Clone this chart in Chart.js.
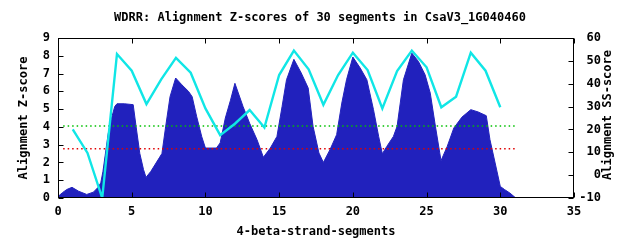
<!DOCTYPE html>
<html>
<head>
<meta charset="utf-8">
<script src="https://cdn.jsdelivr.net/npm/chart.js@4/dist/chart.umd.min.js"></script>
<style>
  html, body { margin: 0; padding: 0; background: #fff; }
  #wrap { width: 640px; height: 240px; }
</style>
</head>
<body>
<div id="wrap"><canvas id="c" width="640" height="240"></canvas></div>
<script>
// ---- data ----
const titleText = "WDRR: Alignment Z-scores of 30 segments in CsaV3_1G040460";
const xTitle = "4-beta-strand-segments";
const yTitle = "Alignment Z-score";
const y2Title = "Alignment SS-score";

// Z-score profile (filled area), positions along the segment axis
const zPos = [0, 0.3, 0.6, 0.95, 1.4, 1.95, 2.4, 2.72, 2.9, 3.05, 3.2, 3.4, 3.6, 3.85, 4.0, 4.5, 5.1, 5.3, 5.55, 5.8, 5.97,
  6.3, 6.9, 7.05, 7.3, 7.6, 7.98, 8.4, 8.85, 9.1, 9.4, 9.75, 10.0, 10.75, 11.0, 11.35, 11.7, 12.0, 12.55, 13.0, 13.5, 13.93,
  14.4, 14.85, 15.2, 15.5, 16.0, 16.5, 16.97, 17.3, 17.7, 18.0, 18.45, 18.9, 19.25, 19.57, 20.0, 20.5, 20.95, 21.4, 21.75,
  22.0, 22.3, 22.75, 23.0, 23.43, 24.0, 24.45, 24.9, 25.25, 25.6, 25.98, 26.4, 26.85, 27.4, 28.0, 28.5, 29.05, 29.3, 29.65,
  30.0, 30.3, 30.65, 31.05];
const zScore = [0.08, 0.3, 0.48, 0.6, 0.38, 0.2, 0.33, 0.6, 0.85, 1.5, 2.4, 3.6, 4.4, 5.15, 5.3, 5.3, 5.25, 4.0, 2.5, 1.6, 1.16,
  1.5, 2.3, 2.5, 4.0, 5.7, 6.75, 6.37, 6.0, 5.7, 4.6, 3.45, 2.81, 2.81, 3.1, 4.5, 5.5, 6.45, 5.15, 4.2, 3.28, 2.29,
  2.81, 3.46, 5.15, 6.65, 7.8, 7.03, 6.19, 4.03, 2.53, 2.0, 2.72, 3.56, 5.34, 6.65, 7.93, 7.31, 6.65, 4.97, 3.46,
  2.49, 2.9, 3.46, 4.03, 6.65, 8.15, 7.68, 6.93, 5.9, 4.03, 2.1, 2.9, 3.94, 4.55, 4.97, 4.84, 4.63, 3.28, 1.97,
  0.65, 0.47, 0.28, 0.0];

// SS-score per segment (right axis)
const segments = [1,2,3,4,5,6,7,8,9,10,11,12,13,14,15,16,17,18,19,20,21,22,23,24,25,26,27,28,29,30];
const ssScore = [20, 9.7, -10, 53, 45.7, 31.1, 41.9, 51.3, 44.8, 29.2, 17.5, 22.5, 28.5, 20.8, 43.8, 54.5, 46.3, 30.8,
  43.8, 53.6, 46, 29.2, 45.5, 54.5, 47.2, 29.7, 34.3, 53.6, 45.7, 29.7];

// threshold lines (left axis)
const threshX = [0.35, 31];
const greenLevel = 4.05;
const redLevel = 2.77;

// axis ranges / ticks
const xRange = [0, 35], xStep = 5;
const yRange = [0, 9], yStep = 1;
const y2Range = [-10, 60], y2Step = 10;

// ---- chart ----
const FONT = "'DejaVu Sans Mono', monospace";
const tickFont = { family: FONT, size: 12, weight: 'bold', lineHeight: 1.2 };

const frame = {
  id: 'frame',
  afterDraw(chart) {
    const { ctx, chartArea: a, scales } = chart;
    ctx.save();
    ctx.strokeStyle = '#000';
    ctx.lineWidth = 1;
    const L = Math.round(a.left) + 0.5, R = Math.round(a.right) - 0.5;
    const T = Math.round(a.top) + 0.5, B = Math.round(a.bottom) - 0.5;
    ctx.strokeRect(L, T, R - L, B - T);
    const tl = 5;
    ctx.beginPath();
    scales.x.ticks.forEach(t => {
      const p = Math.round(scales.x.getPixelForValue(t.value)) + 0.5;
      ctx.moveTo(p, B); ctx.lineTo(p, B - tl);
      ctx.moveTo(p, T); ctx.lineTo(p, T + tl);
    });
    scales.y.ticks.forEach(t => {
      const p = Math.round(scales.y.getPixelForValue(t.value)) + 0.5;
      ctx.moveTo(L, p); ctx.lineTo(L + tl, p);
    });
    scales.y2.ticks.forEach(t => {
      const p = Math.round(scales.y2.getPixelForValue(t.value)) + 0.5;
      ctx.moveTo(R, p); ctx.lineTo(R - tl, p);
    });
    ctx.stroke();
    ctx.fillStyle = '#000';
    ctx.font = "bold 12px " + FONT;
    ctx.textAlign = 'center';
    ctx.textBaseline = 'middle';
    // main title, centred on the whole canvas
    ctx.fillText(titleText, chart.width / 2, 18);
    // right axis title, reading bottom to top
    ctx.translate(607.5, 115);
    ctx.rotate(-Math.PI / 2);
    ctx.fillText(y2Title, 0, 0);
    ctx.restore();
  }
};

new Chart(document.getElementById('c'), {
  type: 'line',
  data: {
    datasets: [
      {
        label: 'Z-score',
        data: zPos.map((p, i) => ({ x: p, y: zScore[i] })),
        yAxisID: 'y',
        fill: 'origin',
        backgroundColor: '#2121bd',
        borderColor: '#2121bd',
        borderWidth: 1,
        pointRadius: 0,
        tension: 0,
        order: 10
      },
      {
        label: 'green',
        data: threshX.map(p => ({ x: p, y: greenLevel })),
        yAxisID: 'y',
        borderColor: '#00c000',
        borderWidth: 1.5,
        borderDash: [1.5, 3],
        pointRadius: 0,
        fill: false,
        order: 2
      },
      {
        label: 'red',
        data: threshX.map(p => ({ x: p, y: redLevel })),
        yAxisID: 'y',
        borderColor: '#e00000',
        borderWidth: 1.5,
        borderDash: [1.5, 3],
        pointRadius: 0,
        fill: false,
        order: 2
      },
      {
        label: 'SS-score',
        data: segments.map((s, i) => ({ x: s, y: ssScore[i] })),
        yAxisID: 'y2',
        borderColor: '#10e6e6',
        borderWidth: 2.4,
        pointRadius: 0,
        fill: false,
        tension: 0,
        order: 1
      }
    ]
  },
  options: {
    responsive: false,
    animation: false,
    devicePixelRatio: 1,
    layout: { padding: { left: 0, top: 38, bottom: 0, right: 39 } },
    plugins: {
      legend: { display: false },
      tooltip: { enabled: false },
      title: { display: false }
    },
    scales: {
      x: {
        type: 'linear',
        min: xRange[0], max: xRange[1],
        grid: { display: false, drawTicks: false },
        border: { display: false },
        ticks: { stepSize: xStep, color: '#000', font: tickFont, padding: 7, maxRotation: 0 },
        title: { display: true, text: xTitle, color: '#000', font: tickFont, padding: { top: 1.3, bottom: 1.3 } },
        afterFit(s) { s.height = 42; }
      },
      y: {
        position: 'left',
        min: yRange[0], max: yRange[1],
        grid: { display: false, drawTicks: false },
        border: { display: false },
        ticks: { stepSize: yStep, color: '#000', font: tickFont, padding: 8 },
        title: { display: true, text: yTitle, color: '#000', font: tickFont, padding: { top: 16.8, bottom: 0 } },
        afterFit(s) { s.width = 58; }
      },
      y2: {
        position: 'right',
        min: y2Range[0], max: y2Range[1],
        grid: { display: false, drawTicks: false },
        border: { display: false },
        ticks: { stepSize: y2Step, color: '#000', font: tickFont, padding: 7, crossAlign: 'far' },
        afterFit(s) { s.width = 27; }
      }
    }
  },
  plugins: [frame]
});
</script>
</body>
</html>
